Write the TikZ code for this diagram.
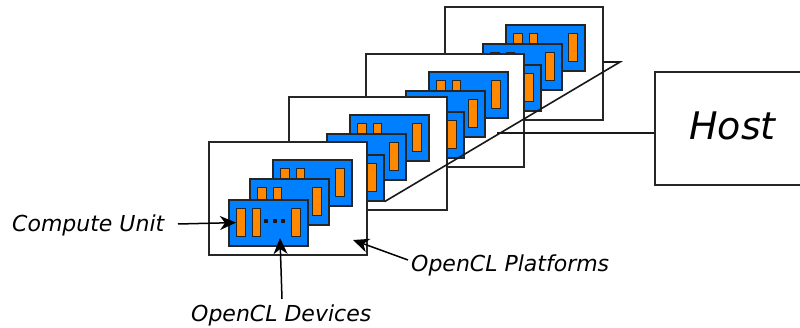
\documentclass[tikz,border=0pt]{standalone}
\usepackage{fontspec}
\setmainfont{DejaVu Sans}
\usetikzlibrary{arrows.meta}
\definecolor{cardblue}{RGB}{0,128,255}
\definecolor{unitorange}{RGB}{255,136,0}
\begin{document}
\begin{tikzpicture}[x=1pt,y=-1pt,
  platform/.style={draw=black!85, fill=white, line width=1.6pt,
    minimum width=158pt, minimum height=113pt, inner sep=0pt, anchor=north west},
  card/.style={draw=black!85, fill=cardblue, line width=1.6pt,
    minimum width=79pt, minimum height=46pt, inner sep=0pt, anchor=north west},
  unit/.style={draw=black!85, fill=unitorange, line width=1.2pt,
    minimum width=8.5pt, minimum height=28pt, inner sep=0pt, anchor=north west},
  lbl/.style={font=\fontsize{22}{26}\selectfont\itshape, inner sep=0pt, anchor=base west},
  link/.style={draw=black!90, line width=1.6pt},
  arr/.style={draw=black, line width=1.5pt, -{Stealth[length=16pt, width=14pt, inset=5pt]}}]
\useasboundingbox (0,0) rectangle (800,328);
\clip (0,0) rectangle (800,328);

% platforms, back to front, each holding three device cards
\foreach \n/\px/\py/\fx/\mx/\bx in {4/444/6/17/38/61, 3/365/53/19/40/63, 2/288/96/16/38/61, 1/208/141/20/41/64}{
  \node[platform] (p\n) at (\px,\py) {};
  \foreach \k/\dx/\dy in {b/\bx/18, m/\mx/37, f/\fx/58}{
    \node[card] (d\n\k) at (\px+\dx,\py+\dy) {};
    \node[unit] (d\n\k u1) at (\px+\dx+8,\py+\dy+9) {};
    \node[unit] (d\n\k u2) at (\px+\dx+23.5,\py+\dy+9) {};
    \node[unit] (d\n\k u3) at (\px+\dx+63,\py+\dy+9) {};
  }
}

% ellipsis between compute units on the front card
\foreach \cx in {266,274.5,283}
  \fill[black!90] (\cx-2,219) rectangle (\cx+2,223);

% host
\node[platform, minimum width=170pt] (host) at (654,71) {};
\node[font=\fontsize{38}{44}\selectfont\itshape, inner sep=0pt, anchor=base west]
  (hostlabel) at (689,140) {Host};

% links between platforms and host
\coordinate (apex) at (620,62);
\coordinate (junction) at (497,133);
\draw[link] (p4.east |- apex) -- (apex) -- (d2f.south east);
\draw[link] (junction) -- (host.west |- junction);

% labels and pointers
\node[lbl] (cu) at (12,232) {Compute Unit};
\node[lbl] (dev) at (191,322) {OpenCL Devices};
\node[lbl] (plat) at (411,272) {OpenCL Platforms};

\coordinate (cuTail) at (178,224);
\coordinate (devTail) at (282,299);
\coordinate (devTip) at (280,238);
\coordinate (platTail) at (408,260);
\coordinate (platTip) at (353,240);

\draw[arr] (cuTail) -- (d1fu1.west);
\draw[arr] (devTail) -- (devTip);
\draw[arr] (platTail) -- (platTip);
\end{tikzpicture}
\end{document}
